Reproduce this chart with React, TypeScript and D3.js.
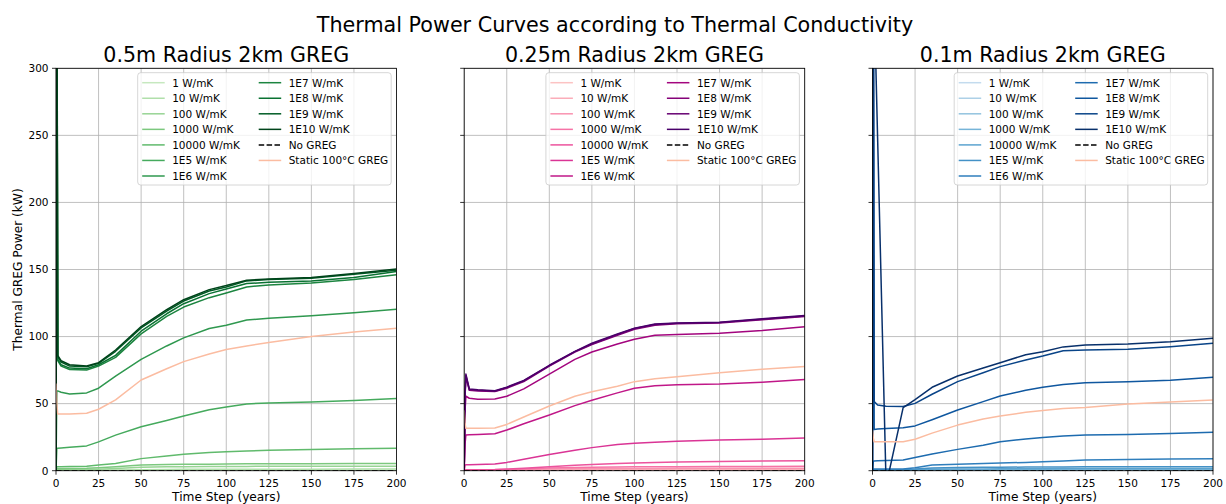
import React from "react";
import * as d3 from "d3";

// time steps (years) shared by every series
const TIME = [0, 0.5, 1, 3, 8, 18, 25, 35, 50, 65, 75, 90, 100, 112, 125, 150, 175, 200];

const CONDUCTIVITY = [
  "1 W/mK", "10 W/mK", "100 W/mK", "1000 W/mK", "10000 W/mK",
  "1E5 W/mK", "1E6 W/mK", "1E7 W/mK", "1E8 W/mK", "1E9 W/mK", "1E10 W/mK",
];
const PANEL_TITLES = ["0.5m Radius 2km GREG", "0.25m Radius 2km GREG", "0.1m Radius 2km GREG"];
const X_TICKS = [0, 25, 50, 75, 100, 125, 150, 175, 200];
const Y_TICKS = [0, 50, 100, 150, 200, 250, 300];

// 0.5m radius
const R05 = [
  [0, 0.1, 0.1, 0.1, 0.1, 0.1, 0.1, 0.2, 0.3, 0.3, 0.3, 0.4, 0.4, 0.4, 0.4, 0.4, 0.4, 0.4],
  [0, 0.3, 0.3, 0.3, 0.3, 0.3, 0.4, 0.5, 0.8, 0.9, 1.0, 1.0, 1.1, 1.1, 1.1, 1.1, 1.2, 1.2],
  [0, 0.7, 0.7, 0.7, 0.8, 0.9, 1.1, 1.6, 2.6, 2.9, 3.0, 3.1, 3.2, 3.2, 3.3, 3.3, 3.4, 3.4],
  [0, 1.5, 1.5, 1.5, 1.6, 1.8, 2.2, 3.0, 4.2, 4.6, 4.8, 4.9, 5.0, 5.1, 5.1, 5.2, 5.3, 5.3],
  [0, 3.0, 3.0, 3.0, 3.1, 3.3, 4.2, 5.4, 9.0, 11.0, 12.3, 13.5, 14.1, 14.7, 15.2, 15.8, 16.4, 16.8],
  [0, 16.5, 16.7, 16.9, 17.5, 18.5, 21.5, 26.5, 32.8, 37.5, 40.8, 45.5, 47.5, 49.8, 50.5, 51.2, 52.3, 53.8],
  [0, 59.5, 59.5, 58.5, 57.2, 58.0, 61.5, 70.5, 83.0, 93.0, 99.0, 106.0, 108.5, 112.3, 113.6, 115.5, 117.8, 120.3],
  [0, 400, 82, 78, 75.5, 75, 78, 84.5, 102, 115, 122, 129, 132.5, 137, 138.5, 140, 142.5, 146],
  [0, 420, 83, 79, 76.5, 76, 79, 86, 104, 117, 124.5, 132, 135.5, 139.5, 140.5, 141.5, 144, 148.5],
  [0, 440, 85, 81, 78, 77.5, 80, 89, 106.5, 119, 126.5, 134, 137, 141.5, 142.5, 143.5, 146.5, 149.5],
  [0, 460, 86, 82, 79, 78, 80.5, 90, 107.5, 120, 127.5, 135, 138, 142, 143, 144, 147, 150.3],
];
const R05_STATIC = [65, 50, 42.3, 42.3, 42.3, 42.8, 45.8, 52.8, 67.6, 76, 81.3, 87, 90.3, 93, 95.5, 100, 103.4, 106.2];

// 0.25m radius
const R025 = [
  [0, 0.1, 0.2, 0.2, 0.2, 0.2, 0.2, 0.2, 0.3, 0.3, 0.3, 0.3, 0.3, 0.3, 0.3, 0.3, 0.3, 0.3],
  [0, 0.2, 0.3, 0.3, 0.3, 0.3, 0.4, 0.5, 0.6, 0.7, 0.7, 0.8, 0.8, 0.8, 0.8, 0.8, 0.9, 0.9],
  [0, 0.3, 0.4, 0.4, 0.4, 0.5, 0.6, 0.8, 1.2, 1.4, 1.5, 1.6, 1.7, 1.7, 1.8, 1.8, 1.8, 1.9],
  [0, 0.5, 0.6, 0.6, 0.6, 0.7, 0.9, 1.3, 2.0, 2.4, 2.6, 2.8, 2.9, 3.0, 3.0, 3.1, 3.2, 3.3],
  [0, 0.7, 0.8, 0.8, 0.8, 0.9, 1.2, 1.9, 3.0, 4.0, 4.6, 5.3, 5.7, 6.1, 6.4, 6.8, 7.2, 7.5],
  [0, 4.0, 4.5, 4.5, 4.6, 5.0, 6.2, 8.5, 12.0, 15.2, 17.2, 19.5, 20.5, 21.3, 22.0, 22.8, 23.5, 24.3],
  [0, 20, 26.6, 26.8, 27.0, 27.5, 30.3, 35, 41.5, 48.5, 52.5, 58, 61.4, 63.3, 64, 64.6, 66, 68],
  [0, 45, 55.5, 54, 53.3, 53.5, 55.5, 61, 72, 83, 88.5, 94.5, 98, 101, 101.5, 102.5, 104.5, 107.4],
  [0, 55, 70, 60, 59.5, 59, 61.5, 66.5, 78, 88.5, 94, 101, 105.5, 108.5, 109.5, 110.2, 112.5, 115],
  [0, 57, 71, 60.5, 60, 59.3, 62, 67, 78.3, 88.8, 94.5, 101.5, 106, 109, 110, 110.4, 113, 115.4],
  [0, 58, 72, 61, 60.3, 59.6, 62.3, 67.3, 78.6, 89, 95, 102, 106.3, 109.3, 110.2, 110.6, 113.2, 115.7],
];
const R025_STATIC = [45, 35, 31.6, 31.6, 31.6, 31.8, 34.5, 40, 48.2, 55.5, 58.8, 63, 66.4, 68.5, 70.1, 73, 75.6, 77.6];

// 0.1m radius
const R01 = [
  [0, 0.05, 0.05, 0.05, 0.05, 0.05, 0.05, 0.1, 0.1, 0.1, 0.1, 0.1, 0.1, 0.1, 0.1, 0.1, 0.1, 0.1],
  [0, 0.1, 0.1, 0.1, 0.1, 0.1, 0.1, 0.2, 0.2, 0.2, 0.2, 0.3, 0.3, 0.3, 0.3, 0.3, 0.3, 0.3],
  [0, 0.2, 0.2, 0.2, 0.2, 0.2, 0.3, 0.3, 0.4, 0.4, 0.5, 0.5, 0.5, 0.5, 0.5, 0.5, 0.5, 0.5],
  [0, 0.3, 0.3, 0.3, 0.3, 0.3, 0.4, 0.5, 0.6, 0.6, 0.7, 0.7, 0.7, 0.7, 0.7, 0.7, 0.7, 0.7],
  [0, 0.5, 0.5, 0.5, 0.5, 0.6, 0.7, 1.0, 1.2, 1.3, 1.4, 1.5, 1.5, 1.6, 1.6, 1.6, 1.7, 1.7],
  [0, 0.8, 0.8, 0.8, 0.8, 0.9, 1.2, 2.0, 2.3, 2.5, 2.6, 2.7, 2.8, 2.8, 2.9, 2.9, 3.0, 3.0],
  [0, 1.2, 1.2, 1.2, 1.2, 1.2, 2.2, 4.2, 4.8, 5.3, 5.7, 6.2, 6.6, 7.2, 7.9, 8.3, 8.7, 9.0],
  [0, 7, 7.2, 7.4, 7.6, 8, 9.9, 12.5, 15.9, 19, 21.6, 23.6, 24.8, 25.8, 26.6, 27, 27.7, 28.6],
  [0, 400, 30.8, 31, 31.4, 32, 33.4, 38, 45.3, 51.5, 55.7, 60, 62.2, 64.3, 65.6, 66.3, 67.5, 69.6],
  [0, 420, 51.5, 49, 48, 47.8, 50.2, 57, 66.4, 73, 77.6, 82.5, 85.5, 89.5, 90, 90.5, 92.5, 95],
  [0, 440, 352, 248, -11, 47, 53, 62.2, 70.6, 76.5, 80.5, 86.5, 88.7, 92.3, 93.7, 94.5, 96.2, 98.7],
];
const R01_STATIC = [30, 24, 21.6, 21.6, 21.6, 21.6, 23.4, 28, 34, 38.5, 40.8, 43.5, 44.8, 46.3, 47.2, 49.7, 51.3, 52.7];

const NO_GREG = TIME.map(() => 0);

const PANELS = [
  { title: PANEL_TITLES[0], series: R05, staticSeries: R05_STATIC, cmap: d3.interpolateGreens },
  { title: PANEL_TITLES[1], series: R025, staticSeries: R025_STATIC, cmap: d3.interpolateRdPu },
  { title: PANEL_TITLES[2], series: R01, staticSeries: R01_STATIC, cmap: d3.interpolateBlues },
];

const W = 1226;
const H = 504;
const TOP = 68.3;
const BOTTOM = 470.7;
const PW = 340.5;
const LEFTS = [56, 464.2, 872.5];
const STATIC_COLOR = "#fbbca1";
const FONT = "DejaVu Sans, sans-serif";

const colorsFor = (cmap) => d3.range(CONDUCTIVITY.length).map(i => cmap(0.25 + 0.75 * i / (CONDUCTIVITY.length - 1)));

const Panel = ({ idx, panel }) => {
  const left = LEFTS[idx];
  const x = d3.scaleLinear().domain([0, 200]).range([left, left + PW]);
  const y = d3.scaleLinear().domain([0, 300]).range([BOTTOM, TOP]);
  const line = d3.line().x((d, i) => x(TIME[i])).y(d => y(d));
  const colors = colorsFor(panel.cmap);
  const clipId = `clip${idx}`;

  const legendItems = [
    ...CONDUCTIVITY.map((label, i) => ({ label, color: colors[i], dash: null })),
    { label: "No GREG", color: "#000", dash: "5.5,2.4" },
    { label: "Static 100°C GREG", color: STATIC_COLOR, dash: null },
  ];
  const lw = 253.5, lh = 112.3;
  const lx = left + PW - 5.3 - lw;
  const ly = TOP + 4.4;

  return (
    <g>
      <defs>
        <clipPath id={clipId}>
          <rect x={left} y={TOP} width={PW} height={BOTTOM - TOP} />
        </clipPath>
      </defs>
      {X_TICKS.map(t => (
        <line key={"gx" + t} x1={x(t)} x2={x(t)} y1={TOP} y2={BOTTOM} stroke="#b0b0b0" strokeWidth={0.8} />
      ))}
      {Y_TICKS.map(t => (
        <line key={"gy" + t} x1={left} x2={left + PW} y1={y(t)} y2={y(t)} stroke="#b0b0b0" strokeWidth={0.8} />
      ))}
      <g clipPath={`url(#${clipId})`}>
        {panel.series.map((s, i) => (
          <path key={i} d={line(s)} fill="none" stroke={colors[i]} strokeWidth={1.5} strokeLinejoin="round" />
        ))}
        <path d={line(NO_GREG)} fill="none" stroke="#000" strokeWidth={1.5} strokeDasharray="5.5,2.4" />
        <path d={line(panel.staticSeries)} fill="none" stroke={STATIC_COLOR} strokeWidth={1.5} strokeLinejoin="round" />
      </g>
      <rect x={left} y={TOP} width={PW} height={BOTTOM - TOP} fill="none" stroke="#000" strokeWidth={0.8} />
      {X_TICKS.map(t => (
        <g key={"tx" + t}>
          <line x1={x(t)} x2={x(t)} y1={BOTTOM} y2={BOTTOM + 4} stroke="#000" strokeWidth={0.8} />
          <text x={x(t)} y={BOTTOM + 15.8} textAnchor="middle" fontSize={10.5} fontFamily={FONT}>{t}</text>
        </g>
      ))}
      {Y_TICKS.map(t => (
        <g key={"ty" + t}>
          <line x1={left - 4} x2={left} y1={y(t)} y2={y(t)} stroke="#000" strokeWidth={0.8} />
          {idx === 0 && (
            <text x={left - 7.5} y={y(t) + 3.8} textAnchor="end" fontSize={10.5} fontFamily={FONT}>{t}</text>
          )}
        </g>
      ))}
      <text x={left + PW / 2} y={501} textAnchor="middle" fontSize={12.2} fontFamily={FONT}>Time Step (years)</text>
      <text x={left + PW / 2} y={62} textAnchor="middle" fontSize={20.6} fontFamily={FONT}>{panel.title}</text>
      <rect x={lx} y={ly} width={lw} height={lh} rx={3} fill="#fff" fillOpacity={0.8} stroke="#cccccc" strokeWidth={0.8} />
      {legendItems.map((it, i) => {
        const col = i < 7 ? 0 : 1;
        const row = i < 7 ? i : i - 7;
        const bx = lx + (col === 0 ? 4.5 : 121);
        const by = ly + 10 + row * 15.55;
        return (
          <g key={"lg" + i}>
            <line x1={bx} x2={bx + 22.5} y1={by} y2={by} stroke={it.color} strokeWidth={1.5} strokeDasharray={it.dash || undefined} />
            <text x={bx + 30} y={by + 3.8} fontSize={10.5} fontFamily={FONT}>{it.label}</text>
          </g>
        );
      })}
    </g>
  );
};

export default function App() {
  return (
    <svg width={W} height={H} style={{ position: "absolute", left: 0, top: 0, background: "#fff" }}>
      <rect width={W} height={H} fill="#fff" />
      <text x={615} y={32} textAnchor="middle" fontSize={20.7} fontFamily={FONT}>
        Thermal Power Curves according to Thermal Conductivity
      </text>
      <text transform={`translate(21.5,${(TOP + BOTTOM) / 2}) rotate(-90)`} textAnchor="middle" fontSize={12.2} fontFamily={FONT}>
        Thermal GREG Power (kW)
      </text>
      {PANELS.map((p, i) => <Panel key={i} idx={i} panel={p} />)}
    </svg>
  );
}
